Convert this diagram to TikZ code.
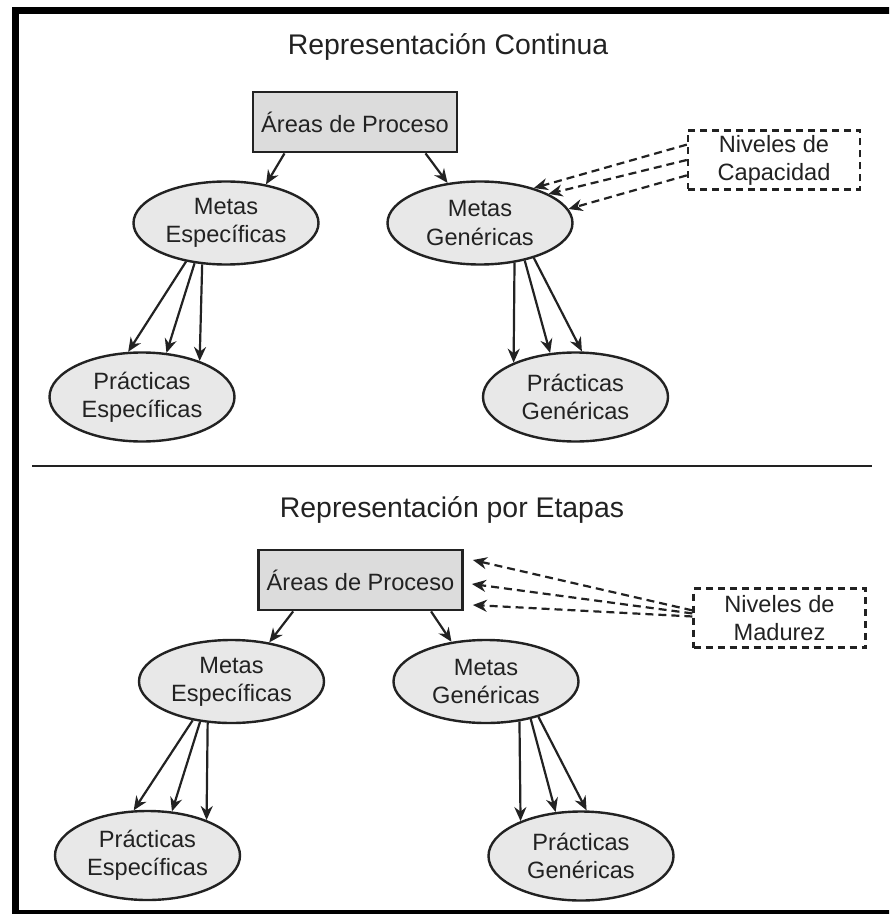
\documentclass[tikz,border=0pt]{standalone}
\usepackage{fontspec}
\setmainfont{Liberation Sans}
\usetikzlibrary{shapes,arrows.meta}
\definecolor{tinta}{HTML}{222222}
\definecolor{gris}{HTML}{DCDCDC}
\definecolor{grisclaro}{HTML}{E8E8E8}
\tikzstyle{texto}=[text=tinta,font=\fontsize{11.8pt}{14pt}\selectfont]
\tikzstyle{area}=[texto,rectangle,draw=tinta,line width=1.4pt,fill=gris,minimum width=102pt,minimum height=30pt]
\tikzstyle{meta}=[texto,ellipse,draw=tinta,line width=1.2pt,fill=grisclaro,minimum width=92.5pt,minimum height=41.5pt,inner sep=0pt,align=center]
\tikzstyle{practica}=[meta,minimum height=44.5pt]
\tikzstyle{nivel}=[texto,rectangle,draw=tinta,line width=1.2pt,dash pattern=on 3.5pt off 2.5pt,minimum width=86pt,minimum height=29.5pt,inner sep=0pt,align=center]
\tikzstyle{titulo}=[text=tinta,font=\fontsize{14.2pt}{16pt}\selectfont]
\tikzstyle{flecha}=[draw=tinta,line width=1.1pt,-{Stealth[length=7pt,width=6pt]}]
\tikzstyle{flechad}=[flecha,dash pattern=on 4pt off 2.5pt]
\begin{document}
\begin{tikzpicture}[x=0.5pt,y=-0.5pt]
  \useasboundingbox (0,0) rectangle (889,914);
  \clip (0,0) rectangle (889,914);
  % marco y separador
  \draw[line width=3.5pt] (900,11) -- (15,11) -- (15,913) -- (900,913);
  \draw[tinta,line width=1.1pt] (32,466) -- (872,466);

  % representacion continua
  \node[titulo] (t1) at (448,47) {Representación Continua};
  \node[area] (ap1) at (355,122) {Áreas de Proceso};
  \node[meta] (me1) at (226,223) {Metas\\Específicas};
  \node[meta] (mg1) at (480,223) {Metas\\Genéricas};
  \node[practica] (pe1) at (142,397) {Prácticas\\Específicas};
  \node[practica] (pg1) at (575.5,397) {Prácticas\\Genéricas};
  \node[nivel] (nc) at (774,160) {Niveles de\\Capacidad};
  \draw[flecha] (ap1.204) -- (me1.44);
  \draw[flecha] (ap1.336) -- (mg1.129);
  \draw[flecha] (me1.224) -- (pe1.107);
  \draw[flecha] (me1.232) -- (pe1.61);
  \draw[flecha] (me1.240) -- (pe1.32);
  \draw[flecha] (mg1.311) -- (pg1.151);
  \draw[flecha] (mg1.320) -- (pg1.120);
  \draw[flecha] (mg1.327) -- (pg1.82);
  \draw[flechad] (nc.170) -- (mg1.33);
  \draw[flechad] (nc.west) -- (mg1.23);
  \draw[flechad] (nc.190) -- (mg1.9);

  % representacion por etapas
  \node[titulo] (t2) at (452,510) {Representación por Etapas};
  \node[area] (ap2) at (360.5,580) {Áreas de Proceso};
  \node[meta] (me2) at (231.5,681.5) {Metas\\Específicas};
  \node[meta] (mg2) at (486,681.5) {Metas\\Genéricas};
  \node[practica] (pe2) at (147.5,855.5) {Prácticas\\Específicas};
  \node[practica] (pg2) at (581,856) {Prácticas\\Genéricas};
  \node[nivel] (nm) at (779.5,618) {Niveles de\\Madurez};
  \draw[flecha] (ap2.205) -- (me2.46);
  \draw[flecha] (ap2.336) -- (mg2.131);
  \draw[flecha] (me2.225) -- (pe2.107);
  \draw[flecha] (me2.232) -- (pe2.61);
  \draw[flecha] (me2.240) -- (pe2.31);
  \draw[flecha] (mg2.310) -- (pg2.150);
  \draw[flecha] (mg2.320) -- (pg2.120);
  \draw[flecha] (mg2.326) -- (pg2.83);
  \draw[flechad] (nm.175) -- ([xshift=4.5pt,yshift=10pt]ap2.east);
  \draw[flechad] (nm.177) -- ([xshift=4pt,yshift=-2pt]ap2.east);
  \draw[flechad] (nm.179) -- ([xshift=4.5pt,yshift=-12.5pt]ap2.east);
\end{tikzpicture}
\end{document}
